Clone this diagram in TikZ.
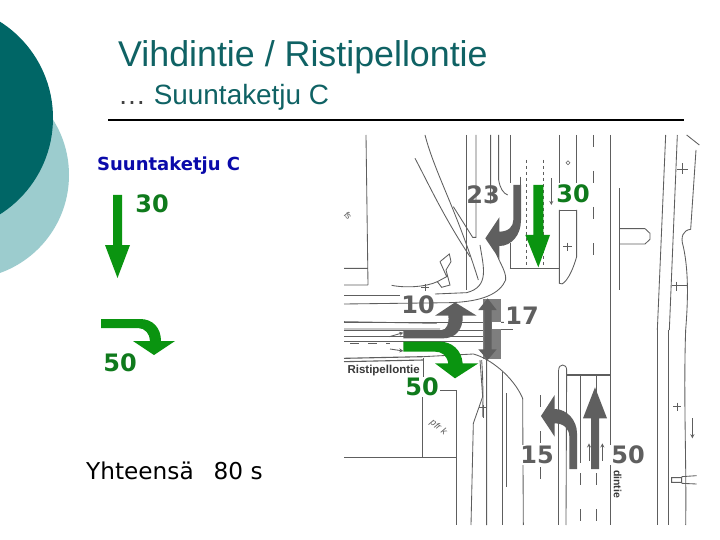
\documentclass[tikz,border=0pt]{standalone}
\usepackage{fontspec}
\setmainfont{Liberation Sans}
\newfontfamily\djfont{DejaVu Sans}
\definecolor{dteal}{HTML}{006666}
\definecolor{tteal}{HTML}{0F6264}
\definecolor{lteal}{HTML}{9CCCCE}
\definecolor{agreen}{HTML}{0A9410}
\definecolor{tgreen}{HTML}{0F7A1C}
\definecolor{agray}{HTML}{5F5F5F}
\definecolor{mapl}{HTML}{5E5E5E}
\definecolor{navy}{HTML}{0A0AAA}
\tikzset{
 tnum/.style={inner sep=0pt,font=\djfont\bfseries\fontsize{24}{26}\selectfont},
 gnum/.style={tnum,text=tgreen},
 mp/.style={draw=mapl,line width=0.85pt},
 mpd/.style={mp,dash pattern=on 9pt off 9pt},
 zoomA/.style={x=0.33333pt,y=-0.33333pt,shift={(340pt,-130pt)}},
 zoomB/.style={x=0.33333pt,y=-0.33333pt,shift={(340pt,-330pt)}},
 zoomC/.style={x=0.33333pt,y=-0.33333pt,shift={(340pt,-270pt)}},
 garrow/.style={fill=agreen,draw=none},
 darrow/.style={fill=agray,draw=none}
}
\begin{document}
\begin{tikzpicture}[x=1pt,y=-1pt]
\useasboundingbox (0,0) rectangle (720,540);
\fill[white] (0,0) rectangle (720,540);
% decorative circles
\begin{scope}
\clip (0,0) rectangle (720,540);
\fill[lteal] (-35,175) circle (104);
\fill[dteal] (-61,118) circle (114);
\end{scope}
% title
\node[anchor=west,inner sep=0pt,text=tteal,font=\fontsize{35.8}{38}\selectfont] (title) at (118,57) {Vihdintie / Ristipellontie};
\node[anchor=west,inner sep=0pt,text=tteal,font=\fontsize{27.9}{30}\selectfont] (sub) at (118,97) {{\color{black!75}…} Suuntaketju C};
\draw[line width=1.4pt] (108,120) -- (684,120);
% left legend
\node[anchor=west,inner sep=0pt,text=navy,font=\djfont\bfseries\fontsize{18}{20}\selectfont] (lt) at (97,166) {Suuntaketju C};
\fill[garrow] (113,195) -- (122,195) -- (122,245) -- (130,245) -- (117.5,278) -- (105,245) -- (113,245) -- cycle;
\node[gnum] (n30) at (152,204) {30};
\fill[garrow] (101,319) -- (140,319) .. controls (153,319) and (161,328) .. (161,341) -- (175,341) -- (154,355) -- (133,341) -- (150,341) .. controls (150,334) and (145,328) .. (138,328) -- (101,328) -- cycle;
\node[gnum] (n50) at (120,363) {50};
\node[anchor=west,inner sep=0pt,text=black,font=\djfont\fontsize{23.2}{25}\selectfont] (tot) at (86,471) {Yhteensä\hspace{20pt}80 s};
% map, upper part
\begin{scope}[zoomA]
\draw[mp] (78,15) -- (84,465) (12,415) -- (84,415) (12,465) -- (84,465);
\draw[mp] (255,15) .. controls (285,130) and (350,240) .. (415,450);
\draw[mp] (225,85) .. controls (260,150) and (310,260) .. (390,380);
\draw[mp] (380,15) -- (380,480);
\draw[mp] (408,15) -- (408,322) -- (398,322) -- (340,230);
\draw[mp] (452,15) -- (452,220) (476,15) -- (476,150) .. controls (480,175) and (490,190) .. (503,195);
\draw[mp] (511,15) -- (511,160) (511,340) -- (511,415);
\draw[mp] (540,140) -- (540,200);
\draw[mp] (460,340) .. controls (470,390) and (500,420) .. (497,450) .. controls (480,490) and (430,515) .. (330,518) -- (12,522);
\draw[mp] (420,345) .. controls (430,410) and (450,470) .. (380,488) -- (285,492);
\draw[mp] (12,495) -- (180,495);
\draw[mp] (12,575) -- (290,580) (12,597) -- (300,597);
\draw[draw=mapl,line width=1.3pt] (509,415) -- (658,415);
\draw[mp,dashed] (560,90) -- (560,410) (610,90) -- (610,410);
\draw[mp] (658,15) -- (658,160) (710,15) -- (710,160) (658,240) -- (710,240);
\draw[mp] (658,240) -- (658,460) .. controls (665,470) and (690,450) .. (710,380) -- (710,240);
\draw[mp,dash pattern=on 12pt off 24pt] (760,15) -- (760,430);
\draw[mp] (812,15) -- (812,600);
\draw[mp] (838,175) -- (838,480);
\draw[mp] (838,296) -- (915,296) -- (930,310) -- (930,328) -- (915,342) -- (838,342);
\draw[mp] (977,15) -- (952,600) (1012,15) -- (988,600);
\draw[mp] (1040,15) -- (1078,45);
\draw[mp] (1068,60) -- (1052,298) .. controls (1030,300) and (1020,320) .. (1030,350) .. controls (1045,420) and (1045,500) .. (1037,600);
\draw[mp] (1012,117) -- (1044,117) (1028,100) -- (1028,132);
\draw[mp] (670,350) -- (695,350) (682,338) -- (682,364);
\draw[mp] (995,467) -- (1040,467) (1008,455) -- (1008,482);
\draw[mp] (300,395) -- (328,372) -- (333,395) -- (318,420) -- (330,465) -- (305,472) -- (292,455) -- (320,440) -- (300,395);
\draw[mp] (155,466) .. controls (200,475) and (260,470) .. (292,455);
\draw[mp] (244,472) -- (266,472) (255,462) -- (255,482);
\draw[mp,line width=0.5pt] (684,92) -- (690,98) -- (684,104) -- (678,98) -- cycle;
\node[rotate=-50,inner sep=0pt,text=mapl,font=\fontsize{9}{10}\selectfont] (fsl) at (24,257) {fs};
\draw[draw=mapl,line width=0.8pt,-stealth] (634,145) -- (634,225);
\end{scope}
% map, middle part
\begin{scope}[zoomC]
\draw[mp] (12,157) -- (430,157) (12,180) -- (430,180) (12,200) -- (430,200);
\draw[mp] (482,157) -- (510,157) -- (515,140);
\draw[mp] (482,178) -- (520,178);
\draw[mp,-stealth] (148,200) -- (190,188);
\draw[mp,-stealth] (150,237) -- (190,243);
\foreach \yy in {90,96,...,264} {\draw[draw=mapl!80!white,line width=1.1pt] (430,\yy) -- (482,\yy);}
\fill[white] (455,155) rectangle (482,178);
\end{scope}
% map, lower part
\begin{scope}[zoomB]
\draw[mp] (12,35) -- (430,35);
\draw[mpd] (30,40) -- (150,40);
\draw[draw=mapl,line width=1.1pt] (12,85) -- (250,80) (12,95) -- (250,90);
\draw[mp] (250,80) -- (400,72) .. controls (450,85) and (520,140) .. (548,205) -- (550,585);
\draw[mp] (250,85) -- (250,180);
\draw[mp] (248,180) -- (248,385) (300,182) -- (350,182) -- (350,585);
\draw[mp] (12,383) -- (350,383);
\draw[mp] (440,85) -- (440,585) (420,90) -- (428,200) -- (400,280) -- (393,585);
\draw[mp] (486,125) -- (486,585) (500,190) -- (500,470);
\draw[mp] (425,90) .. controls (428,130) and (430,190) .. (428,260);
\draw[mp,line width=1pt] (418,232) -- (442,232) (430,225) -- (430,265);
\draw[mp] (656,120) .. controls (656,100) and (680,100) .. (680,120) -- (678,585);
\draw[mp] (656,120) -- (656,585);
\draw[draw=mapl,line width=1.3pt] (680,135) -- (812,135);
\draw[mp] (722,135) -- (722,400) (768,135) -- (768,400);
\draw[mp,dash pattern=on 12pt off 24pt] (722,430) -- (722,585) (768,430) -- (768,585);
\draw[mp] (812,0) -- (812,585);
\draw[mp,dash pattern=on 12pt off 24pt] (602,195) -- (602,510);
\draw[mp] (952,0) -- (952,585) (985,0) -- (985,585);
\draw[mp] (1037,0) .. controls (1030,200) and (1040,400) .. (1037,585);
\draw[mp] (1000,230) -- (1024,230) (1012,218) -- (1012,242);
\draw[mp,-stealth] (1057,265) -- (1057,325);
\draw[mp,-stealth] (747,392) -- (747,340);
\draw[mp,-stealth] (787,392) -- (787,340);
\draw[mp] (995,443) rectangle (1025,457) (1025,440) -- (1070,437) (1025,460) -- (1070,462);
\node[anchor=west,inner sep=0pt,text=agray!60!black,font=\bfseries\fontsize{11.5}{13}\selectfont] (rp) at (22,122) {Ristipellontie};
\node[rotate=-90,inner sep=0pt,fill=white,inner sep=0.5pt,text=agray!60!black,font=\bfseries\fontsize{10.5}{12}\selectfont] (dl) at (833,462) {dintie};
\node[rotate=-38,inner sep=0pt,text=mapl,font=\itshape\fontsize{9.5}{11}\selectfont] (pfr) at (295,293) {pfr k};
\end{scope}
% map arrows
\begin{scope}[zoomA]
% 23 turn arrow
\fill[darrow] (520,165) -- (543,165) -- (543,270) .. controls (543,315) and (515,348) .. (478,348) -- (478,387) -- (436,325) -- (478,262) -- (478,305) .. controls (505,305) and (520,290) .. (520,270) -- cycle;
% 30 arrow
\fill[garrow] (580,165) -- (610,165) -- (610,315) -- (630,315) -- (595,412) -- (556,315) -- (580,315) -- cycle;
\end{scope}
\node[tnum,text=agray] (n23) at (483,195) {23};
\node[gnum,fill=white,inner sep=1pt] (m30) at (573,194) {30};
\begin{scope}[zoomC]
% 10 arrow
\fill[darrow] (190,180) -- (305,180) .. controls (320,180) and (328,160) .. (325,137) -- (285,137) -- (345,97) -- (410,137) -- (368,137) .. controls (370,180) and (345,205) .. (310,205) -- (190,205) -- cycle;
% 17 arrow
\fill[darrow] (443,85) -- (470,120) -- (455,120) -- (455,238) -- (470,238) -- (443,270) -- (415,238) -- (433,238) -- (433,120) -- (415,120) -- cycle;
\end{scope}
\node[tnum,text=agray] (n10) at (418,305) {10};
\node[tnum,text=agray,fill=white,inner sep=1pt] (n17) at (522,316) {17};
\begin{scope}[zoomB]
% 50 turn arrow
\fill[garrow] (190,35) -- (300,35) .. controls (335,35) and (365,60) .. (368,100) -- (415,100) -- (345,145) -- (285,100) -- (325,100) .. controls (320,75) and (305,65) .. (285,65) -- (190,65) -- cycle;
% 15 arrow
\fill[darrow] (688,417) -- (711,417) -- (711,310) .. controls (711,270) and (680,237) .. (644,237) -- (644,195) -- (603,258) -- (644,320) -- (644,280) .. controls (670,280) and (688,295) .. (688,320) -- cycle;
% 50 straight
\fill[darrow] (753,417) -- (777,417) -- (777,265) -- (801,265) -- (765,172) -- (729,265) -- (753,265) -- cycle;
\end{scope}
\node[gnum,fill=white,inner sep=1pt] (m50) at (422,387) {50};
\node[tnum,text=agray,fill=white,inner sep=1pt] (n15) at (537,455) {15};
\node[tnum,text=agray,fill=white,inner sep=1pt] (n50b) at (628,455) {50};
\end{tikzpicture}
\end{document}
